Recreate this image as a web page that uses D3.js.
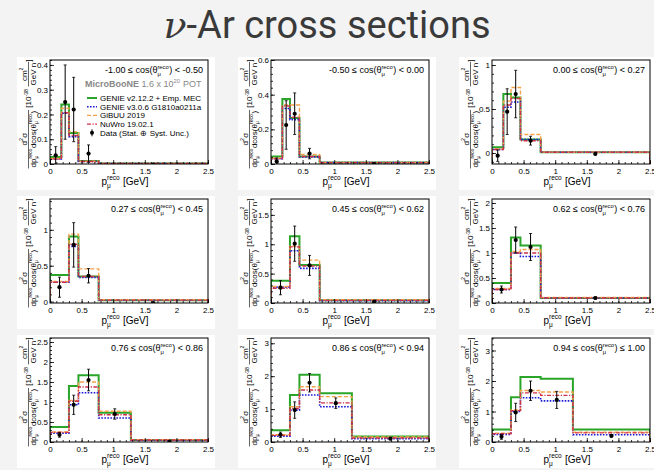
<!DOCTYPE html>
<html>
<head>
<meta charset="utf-8">
<script src="https://cdn.jsdelivr.net/npm/d3@7"></script>
<style>
  html, body { margin: 0; padding: 0; background: #f3f3f3; }
  svg { display: block; }
  text { white-space: pre; }
</style>
</head>
<body>
<svg id="chart" width="654" height="470"></svg>
<script>
// ---- data: muon momentum bins per cos(theta) slice ----
const cosLow  = ["-1.00", "-0.50", "0.00", "0.27", "0.45", "0.62", "0.76", "0.86", "0.94"];
const cosHigh = ["-0.50", "0.00", "0.27", "0.45", "0.62", "0.76", "0.86", "0.94", "1.00"];
const cosUpperOp = ["<", "<", "<", "<", "<", "<", "<", "<", "≤"];

const binEdges = [
  [0, 0.18, 0.3, 0.45, 0.77, 2.5],
  [0, 0.18, 0.3, 0.45, 0.77, 2.5],
  [0, 0.18, 0.3, 0.45, 0.77, 2.5],
  [0, 0.3, 0.45, 0.77, 2.5],
  [0, 0.3, 0.45, 0.77, 2.5],
  [0, 0.3, 0.45, 0.77, 2.5],
  [0, 0.3, 0.45, 0.77, 1.28, 2.5],
  [0, 0.3, 0.45, 0.77, 1.28, 2.5],
  [0, 0.3, 0.45, 0.77, 1.28, 2.5]
];

const genieV2 = [
  [0.028, 0.24, 0.125, 0.012, 0.002],
  [0.043, 0.375, 0.266, 0.043, 0.008],
  [0.065, 0.67, 0.63, 0.153, 0.008],
  [0.372, 0.907, 0.35, 0.02],
  [0.38, 1.135, 0.646, 0.045],
  [0.4, 1.31, 1.15, 0.1],
  [0.375, 1.4, 1.667, 0.733, 0.05],
  [0.36, 1.43, 2.04, 1.48, 0.17],
  [0.41, 1.47, 2.13, 2.07, 0.41]
];
const genieV3 = [
  [0.02, 0.205, 0.11, 0.01, 0.002],
  [0.03, 0.32, 0.256, 0.04, 0.008],
  [0.04, 0.52, 0.58, 0.153, 0.008],
  [0.27, 0.77, 0.335, 0.02],
  [0.27, 0.89, 0.59, 0.04],
  [0.27, 1.0, 0.93, 0.1],
  [0.22, 0.93, 1.233, 0.6, 0.045],
  [0.18, 0.97, 1.43, 1.07, 0.1],
  [0.25, 1.0, 1.45, 1.35, 0.24]
];
const gibuu = [
  [0.022, 0.225, 0.13, 0.011, 0.002],
  [0.033, 0.34, 0.34, 0.055, 0.009],
  [0.045, 0.59, 0.745, 0.21, 0.01],
  [0.28, 0.94, 0.456, 0.025],
  [0.28, 0.966, 0.73, 0.056],
  [0.29, 1.03, 1.07, 0.11],
  [0.25, 1.04, 1.5, 0.767, 0.06],
  [0.22, 1.07, 1.68, 1.38, 0.15],
  [0.29, 1.05, 1.69, 1.64, 0.32]
];
const nuwro = [
  [0.02, 0.207, 0.115, 0.01, 0.002],
  [0.03, 0.335, 0.27, 0.043, 0.008],
  [0.04, 0.545, 0.62, 0.14, 0.008],
  [0.27, 0.8, 0.35, 0.02],
  [0.25, 0.955, 0.63, 0.045],
  [0.27, 1.0, 1.0, 0.1],
  [0.24, 1.02, 1.375, 0.683, 0.05],
  [0.2, 1.02, 1.58, 1.19, 0.12],
  [0.27, 1.03, 1.61, 1.53, 0.3]
];
const dataValues = [
  [0.035, 0.25, 0.22, 0.042, -0.002],
  [0.015, 0.225, 0.29, 0.06, 0.0],
  [-0.03, 0.47, 0.67, 0.14, -0.01],
  [0.2, 0.79, 0.36, -0.02],
  [0.26, 1.01, 0.64, 0.025],
  [0.27, 1.26, 1.12, 0.1],
  [0.18, 0.93, 1.55, 0.7, 0.01],
  [0.22, 0.97, 1.8, 1.18, 0.1],
  [0.17, 0.97, 1.68, 1.38, 0.2]
];
const dataErrors = [
  [0.035, 0.15, 0.13, 0.035, 0.004],
  [0.02, 0.14, 0.12, 0.03, 0.004],
  [0.065, 0.26, 0.27, 0.05, 0.01],
  [0.14, 0.31, 0.1, 0.01],
  [0.12, 0.3, 0.17, 0.01],
  [0.07, 0.26, 0.27, 0.02],
  [0.06, 0.24, 0.27, 0.13, 0.02],
  [0.08, 0.25, 0.28, 0.16, 0.03],
  [0.08, 0.3, 0.32, 0.28, 0.03]
];

// axis ranges and tick labels
const yDomains = [
  [0, 0.42], [0, 0.6], [-0.125, 1.057],
  [-0.02, 1.43], [0, 1.77], [0, 2.08],
  [0, 2.6], [0, 3.16], [0, 3.41]
];
const yTickValues = [
  [0, 0.1, 0.2, 0.3, 0.4], [0, 0.2, 0.4, 0.6], [0, 0.5, 1],
  [0, 0.5, 1], [0, 0.5, 1, 1.5], [0, 0.5, 1, 1.5, 2],
  [0, 0.5, 1, 1.5, 2, 2.5], [0, 1, 2, 3], [0, 1, 2, 3]
];
const xDomain = [0, 2.5];
const xTickValues = [0, 0.5, 1, 1.5, 2, 2.5];

const models = [
  { name: "GENIE v2.12.2 + Emp. MEC", values: genieV2, color: "#2aa52a", width: 2, dash: null },
  { name: "GENIE v3.0.6 G1810a0211a", values: genieV3, color: "#1a1ad6", width: 1.6, dash: "1.6,1.4" },
  { name: "GiBUU 2019", values: gibuu, color: "#f7a24a", width: 1.4, dash: "4,2" },
  { name: "NuWro 19.02.1", values: nuwro, color: "#d0304a", width: 1.4, dash: "4,1.5,1.2,1.5" }
];

// ---- layout ----
const W = 654, H = 470;
const FONT = "'Liberation Sans', Arial, Helvetica, sans-serif";
const colLeft = [50, 271, 492];
const rowTop = [60, 199, 338];
const frameW = 158, frameH = 104;

const svg = d3.select("#chart");
svg.append("rect").attr("width", W).attr("height", H).attr("fill", "#f3f3f3");

// page title
const title = svg.append("text")
  .attr("x", W / 2).attr("y", 38)
  .attr("text-anchor", "middle")
  .attr("font-family", "Roboto, 'Open Sans', sans-serif")
  .attr("font-size", 38)
  .attr("fill", "#3a3a3a");
title.append("tspan")
  .attr("font-family", "'DejaVu Serif', 'Liberation Serif', serif")
  .attr("font-style", "italic")
  .text("ν");
title.append("tspan").text("-Ar cross sections");

// lays out text with stacked super/subscripts; returns advance width
function rich(g, tokens, size, fill, weight) {
  let x = 0;
  const put = (str, fs, dy) => {
    const t = g.append("text")
      .attr("x", x).attr("y", dy)
      .attr("font-family", FONT)
      .attr("font-size", fs)
      .attr("font-weight", weight || "normal")
      .attr("fill", fill)
      .text(str);
    return t.node().getComputedTextLength();
  };
  for (const tok of tokens) {
    if (typeof tok === "string") {
      x += put(tok, size, 0);
    } else {
      let w = 0;
      if (tok.sup) w = Math.max(w, put(tok.sup, size * 0.65, -size * 0.42));
      if (tok.sub) w = Math.max(w, put(tok.sub, size * 0.65, size * 0.3));
      x += w + size * 0.05;
    }
  }
  return x;
}

// rotated y-axis title built from two fractions
function yTitle(parent, cx, cy) {
  const s = 8;
  const root = parent.append("g").attr("transform", `translate(${cx},${cy}) rotate(-90)`);
  const inner = root.append("g");
  let x = 0;
  function frac(num, den) {
    const gn = inner.append("g"), gd = inner.append("g");
    const wn = rich(gn, num, s, "#000");
    const wd = rich(gd, den, s, "#000");
    const w = Math.max(wn, wd) + 2;
    gn.attr("transform", `translate(${x + (w - wn) / 2},${-1.8})`);
    gd.attr("transform", `translate(${x + (w - wd) / 2},${s * 0.72 + 1.4})`);
    inner.append("line")
      .attr("x1", x).attr("x2", x + w).attr("y1", 0).attr("y2", 0)
      .attr("stroke", "#000").attr("stroke-width", 0.6);
    x += w;
  }
  function plain(tokens) {
    const gp = inner.append("g");
    const w = rich(gp, tokens, s, "#000");
    gp.attr("transform", `translate(${x},${s * 0.36})`);
    x += w;
  }
  frac(["d", { sup: "2" }, "σ"],
       ["dp", { sup: "reco", sub: "μ" }, "dcos(θ", { sup: "reco", sub: "μ" }, ")"]);
  plain([" [10", { sup: "-38" }, " "]);
  frac(["cm", { sup: "2" }], ["GeV n"]);
  plain(["]"]);
  inner.attr("transform", `translate(${-x / 2},0)`);
}

const fmt = d3.format("~g");

function minorTicks(domain, majors) {
  const step = (majors[1] - majors[0]) / 5;
  const start = Math.ceil(domain[0] / step - 1e-9) * step;
  return d3.range(start, domain[1] + 1e-9, step)
    .map(v => +v.toFixed(6))
    .filter(v => v >= domain[0] && v <= domain[1]);
}

const line = d3.line();

d3.range(9).forEach(i => {
  const col = i % 3, row = Math.floor(i / 3);
  const fx = colLeft[col], fy = rowTop[row];

  // white tile behind each panel
  svg.append("rect")
    .attr("x", fx - 33).attr("y", fy - 3)
    .attr("width", 198).attr("height", 133)
    .attr("fill", "#ffffff");

  const g = svg.append("g").attr("transform", `translate(${fx},${fy})`);
  const x = d3.scaleLinear(xDomain, [0, frameW]);
  const y = d3.scaleLinear(yDomains[i], [frameH, 0]);

  const clipId = `clip${i}`;
  g.append("clipPath").attr("id", clipId)
    .append("rect").attr("width", frameW).attr("height", frameH);
  const plot = g.append("g").attr("clip-path", `url(#${clipId})`);

  // model histograms
  const edges = binEdges[i];
  models.forEach(m => {
    const vals = m.values[i];
    const pts = [[x(edges[0]), frameH]];
    vals.forEach((v, k) => {
      pts.push([x(edges[k]), y(v)]);
      pts.push([x(edges[k + 1]), y(v)]);
    });
    pts.push([x(edges[edges.length - 1]), frameH]);
    plot.append("path")
      .attr("d", line(pts))
      .attr("fill", "none")
      .attr("stroke", m.color)
      .attr("stroke-width", m.width)
      .attr("stroke-dasharray", m.dash);
  });

  // data points with error bars
  const centers = d3.range(edges.length - 1).map(k => (edges[k] + edges[k + 1]) / 2);
  const pts = g.append("g").attr("clip-path", `url(#${clipId})`);
  centers.forEach((c, k) => {
    const v = dataValues[i][k], e = dataErrors[i][k];
    const px = x(c);
    pts.append("line")
      .attr("x1", px).attr("x2", px)
      .attr("y1", y(v - e)).attr("y2", y(v + e))
      .attr("stroke", "#000").attr("stroke-width", 1);
    [v - e, v + e].forEach(b => {
      pts.append("line")
        .attr("x1", px - 1.5).attr("x2", px + 1.5)
        .attr("y1", y(b)).attr("y2", y(b))
        .attr("stroke", "#000").attr("stroke-width", 0.8);
    });
    pts.append("circle").attr("cx", px).attr("cy", y(v)).attr("r", 2.1).attr("fill", "#000");
  });

  // axes
  const yAxis = g.append("g").call(
    d3.axisLeft(y).tickValues(yTickValues[i]).tickSize(-4).tickPadding(2).tickFormat(fmt));
  const yMinor = g.append("g").call(
    d3.axisLeft(y).tickValues(minorTicks(yDomains[i], yTickValues[i])).tickSize(-2).tickFormat(""));
  const xAxis = g.append("g").attr("transform", `translate(0,${frameH})`).call(
    d3.axisBottom(x).tickValues(xTickValues).tickSize(-4).tickPadding(4).tickFormat(fmt));
  const xMinor = g.append("g").attr("transform", `translate(0,${frameH})`).call(
    d3.axisBottom(x).tickValues(minorTicks(xDomain, xTickValues)).tickSize(-2).tickFormat(""));
  [yAxis, yMinor, xAxis, xMinor].forEach(a => {
    a.select(".domain").remove();
    a.selectAll("line").attr("stroke", "#000").attr("stroke-width", 0.8);
    a.selectAll("text").attr("font-family", FONT).attr("font-size", 8).attr("fill", "#000");
  });

  // frame
  g.append("rect")
    .attr("width", frameW).attr("height", frameH)
    .attr("fill", "none").attr("stroke", "#000").attr("stroke-width", 1);

  // slice label
  const lab = g.append("g");
  const lw = rich(lab,
    [`${cosLow[i]} ≤ cos(θ`, { sup: "reco", sub: "μ" }, `) ${cosUpperOp[i]} ${cosHigh[i]}`],
    9, "#000");
  lab.attr("transform", `translate(${frameW - 5 - lw},13)`);

  // axis titles
  const xt = g.append("g");
  const xw = rich(xt, ["p", { sup: "reco", sub: "μ" }, " [GeV]"], 10, "#000");
  xt.attr("transform", `translate(${frameW / 2 - 4 - xw / 2},${frameH + 20.5})`);

  yTitle(g, -21.5, frameH / 2 + 2);

  // legend (first panel only)
  if (i === 0) {
    const lg = g.append("g").attr("transform", "translate(35,27)");
    const gb = lg.append("g");
    const bw = rich(gb, ["MicroBooNE"], 9, "#888", "bold");
    const gr = lg.append("g").attr("transform", `translate(${bw},0)`);
    rich(gr, [" 1.6 x 10", { sup: "20" }, " POT"], 9, "#888");

    const entries = models.map(m => ({ label: m.name, model: m }))
      .concat([{ label: "Data (Stat. ⊕ Syst. Unc.)", model: null }]);
    entries.forEach((en, k) => {
      const cy = 38 + k * 8.7;
      if (en.model) {
        g.append("line")
          .attr("x1", 37).attr("x2", 47).attr("y1", cy).attr("y2", cy)
          .attr("stroke", en.model.color)
          .attr("stroke-width", en.model.width)
          .attr("stroke-dasharray", en.model.dash);
      } else {
        g.append("line").attr("x1", 42).attr("x2", 42).attr("y1", cy - 3.5).attr("y2", cy + 3.5)
          .attr("stroke", "#000").attr("stroke-width", 1);
        g.append("circle").attr("cx", 42).attr("cy", cy).attr("r", 2).attr("fill", "#000");
      }
      const tg = g.append("g").attr("transform", `translate(50,${cy + 2.9})`);
      rich(tg, [en.label], 8, "#000");
    });
  }
});
</script>
</body>
</html>
